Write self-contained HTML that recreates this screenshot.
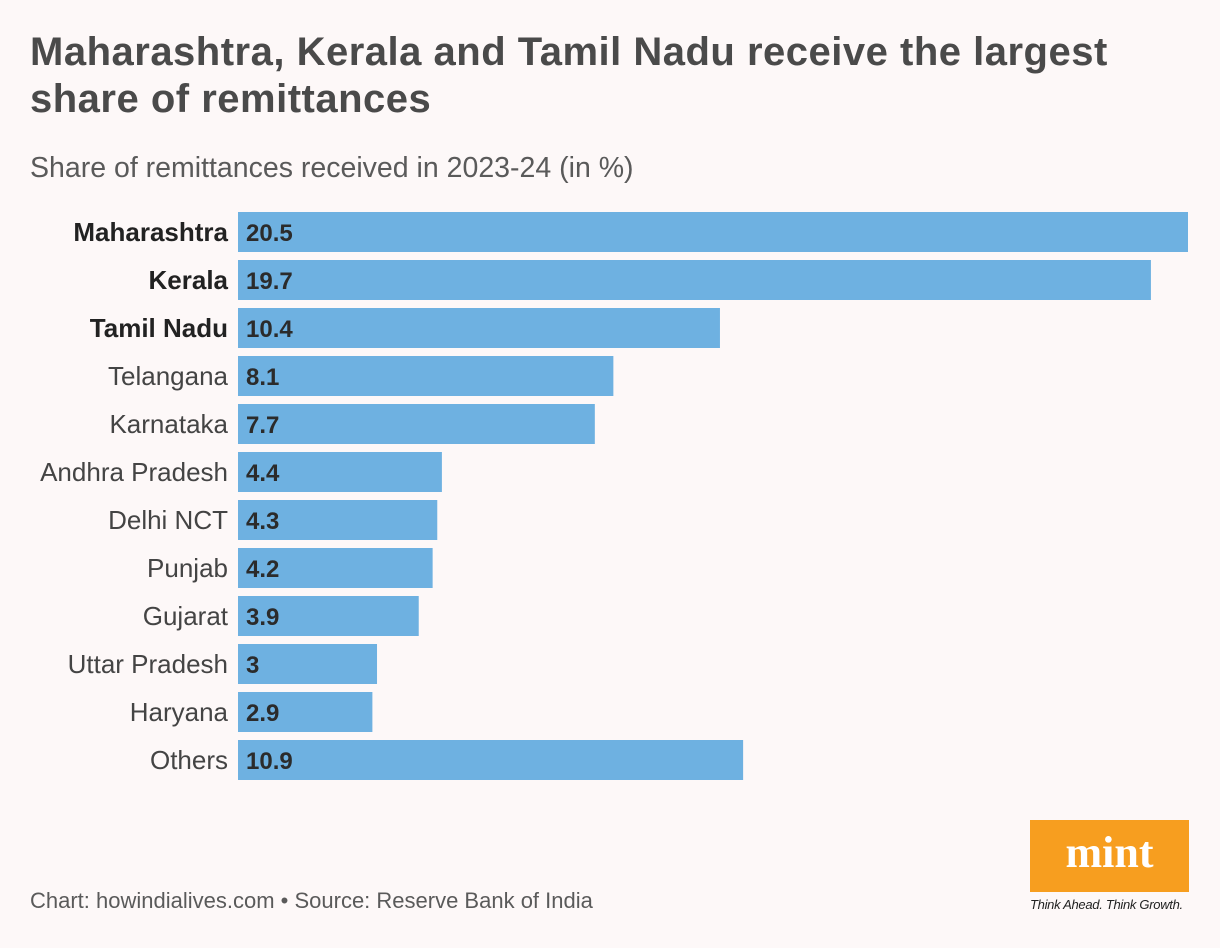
<!DOCTYPE html>
<html><head><meta charset="utf-8">
<style>
body{margin:0;width:1220px;height:948px;background:#fdf8f8;font-family:"Liberation Sans",sans-serif;overflow:hidden;position:relative}
#title{position:absolute;left:30px;top:29px;font-size:40px;font-weight:bold;color:#4a4a4a;line-height:47px;letter-spacing:0.5px;margin:0}
#subtitle{position:absolute;left:30px;top:152px;font-size:28.5px;color:#5a5a5a}
#source{position:absolute;left:30px;top:888px;font-size:22px;color:#5a5a5a}
#logo{position:absolute;left:1030px;top:820px;width:159px;height:72px;background:#f79e1f;color:#fff;font-family:"Liberation Serif",serif;font-weight:bold;font-size:44px;text-align:center;line-height:66px}
#tag{position:absolute;left:1030px;top:897px;font-size:13px;font-style:italic;color:#222;letter-spacing:-0.3px}
</style></head><body>
<h1 id="title">Maharashtra, Kerala and Tamil Nadu receive the largest<br>share of remittances</h1>
<div id="subtitle">Share of remittances received in 2023-24 (in %)</div>
<svg id="chart" width="1220" height="948" style="position:absolute;left:0;top:0"></svg>
<div id="source">Chart: howindialives.com • Source: Reserve Bank of India</div>
<div id="logo">mint</div>
<div id="tag">Think Ahead. Think Growth.</div>
<script>
const categories=["Maharashtra","Kerala","Tamil Nadu","Telangana","Karnataka","Andhra Pradesh","Delhi NCT","Punjab","Gujarat","Uttar Pradesh","Haryana","Others"];
const values=[20.5,19.7,10.4,8.1,7.7,4.4,4.3,4.2,3.9,3,2.9,10.9];
const labels=["20.5","19.7","10.4","8.1","7.7","4.4","4.3","4.2","3.9","3","2.9","10.9"];
const bold=[true,true,true,false,false,false,false,false,false,false,false,false];
const svg=document.getElementById('chart');
const NS='http://www.w3.org/2000/svg';
const x0=238, maxV=20.5, maxW=950;
const xs=v=>v/maxV*maxW;
const ys=i=>212+i*48;
categories.forEach((c,i)=>{
  const r=document.createElementNS(NS,'rect');
  r.setAttribute('x',x0);r.setAttribute('y',ys(i));
  r.setAttribute('width',xs(values[i]));r.setAttribute('height',40);
  r.setAttribute('fill','#6eb1e1');
  
  
  svg.appendChild(r);
  const t=document.createElementNS(NS,'text');
  t.setAttribute('x',228);t.setAttribute('y',ys(i)+29);
  t.setAttribute('text-anchor','end');t.setAttribute('font-size','26');
  t.setAttribute('fill',bold[i]?'#222':'#444');
  if(bold[i])t.setAttribute('font-weight','bold');
  t.textContent=c;
  
  
  svg.appendChild(t);
  const v=document.createElementNS(NS,'text');
  v.setAttribute('x',x0+8);v.setAttribute('y',ys(i)+29);
  v.setAttribute('font-size','24');v.setAttribute('font-weight','bold');v.setAttribute('fill','#2b2b2b');
  v.textContent=labels[i];
  
  
  svg.appendChild(v);
});
</script>
</body></html>
